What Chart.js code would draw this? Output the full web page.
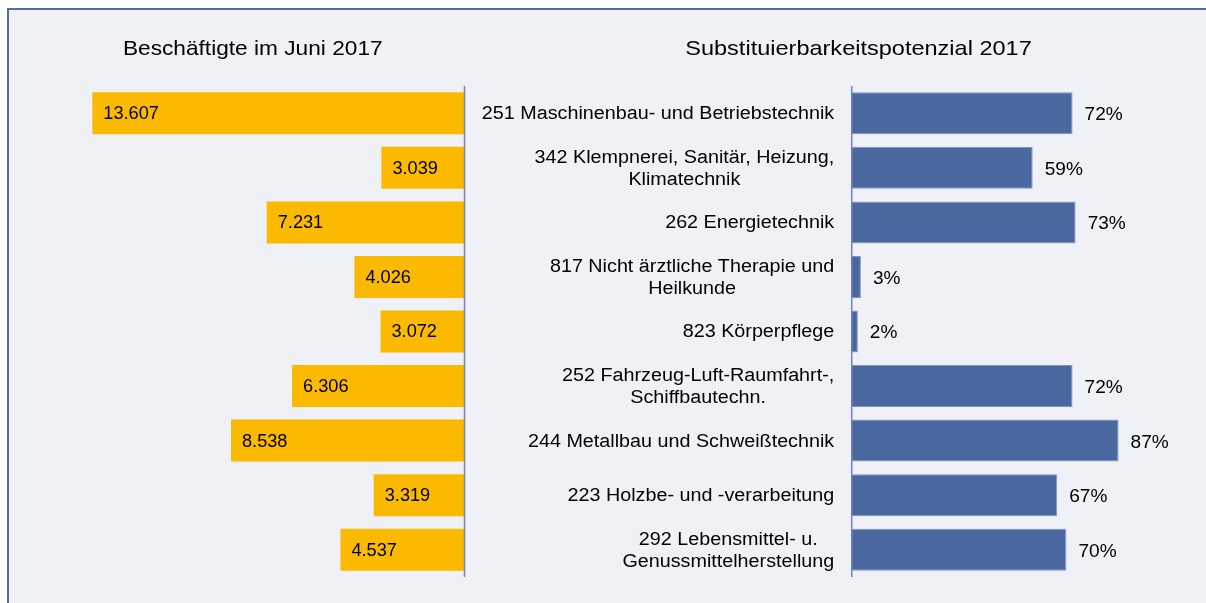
<!DOCTYPE html>
<html>
<head>
<meta charset="utf-8">
<script src="https://cdn.jsdelivr.net/npm/chart.js@4.4.0/dist/chart.umd.min.js"></script>
<style>
	body { margin: 0; background: #fff; }
	#frame { position: absolute; left: 7px; top: 8px; width: 1199px; height: 595px; box-sizing: border-box;
		border-top: 2px solid #4f6ea9; border-left: 2px solid #4f6ea9; background: #eff1f7; }
	#wrap { position: absolute; left: 0; top: 0; width: 1206px; height: 603px; }
</style>
</head>
<body>
<div id="frame"></div>
<div id="wrap"><canvas id="chart"></canvas></div>
<script>
// categories, top to bottom (multi-line labels as arrays)
var categories = [
	['251 Maschinenbau- und Betriebstechnik'],
	['342 Klempnerei, Sanitär, Heizung,', 'Klimatechnik'],
	['262 Energietechnik'],
	['817 Nicht ärztliche Therapie und', 'Heilkunde'],
	['823 Körperpflege'],
	['252 Fahrzeug-Luft-Raumfahrt-,', 'Schiffbautechn.'],
	['244 Metallbau und Schweißtechnik'],
	['223 Holzbe- und -verarbeitung'],
	['292 Lebensmittel- u.', 'Genussmittelherstellung']
];
var employees = [13607, 3039, 7231, 4026, 3072, 6306, 8538, 3319, 4537];
var substitution = [72, 59, 73, 3, 2, 72, 87, 67, 70];
var titles = ['Beschäftigte im Juni 2017', 'Substituierbarkeitspotenzial 2017'];

var FONT = '"Liberation Sans", Arial, sans-serif';

function fmt(n) {
	return String(n).replace(/\B(?=(\d{3})+(?!\d))/g, '.');
}

// text slightly widened, the original was rendered with wider (hinted) glyphs
function drawText(ctx, text, x, y, align, sx) {
	ctx.save();
	ctx.translate(x, y);
	ctx.scale(sx, 1);
	ctx.textAlign = align;
	ctx.fillText(text, 0, 0);
	ctx.restore();
}

// draws axis lines, value labels, category labels and the two titles
var labelsPlugin = {
	id: 'labels',
	afterDatasetsDraw: function(chart) {
		var ctx = chart.ctx;
		var area = chart.chartArea;
		var zeroL = chart.scales.xLeft.getPixelForValue(0);
		var zeroR = chart.scales.xRight.getPixelForValue(0);

		ctx.save();

		// axis lines
		ctx.strokeStyle = '#7185b5';
		ctx.lineWidth = 1.5;
		[zeroL, zeroR].forEach(function(x) {
			ctx.beginPath();
			ctx.moveTo(x, area.top);
			ctx.lineTo(x, area.bottom);
			ctx.stroke();
		});

		ctx.fillStyle = '#000';
		ctx.font = '18px ' + FONT;
		ctx.textBaseline = 'middle';

		chart.getDatasetMeta(0).data.forEach(function(bar, i) {
			drawText(ctx, fmt(employees[i]), bar.x + 11, bar.y + 1, 'left', 1.01);
		});
		chart.getDatasetMeta(1).data.forEach(function(bar, i) {
			drawText(ctx, substitution[i] + '%', bar.x + 12, bar.y + 2, 'left', 1.06);
		});

		// category labels: block right aligned, lines centred within the block
		var sx = 1.097;
		var right = zeroR - 17.5;
		var lineH = 21.7;
		categories.forEach(function(lines, i) {
			var yc = chart.scales.y.getPixelForValue(i) + 1;
			var w = 0;
			lines.forEach(function(l) { w = Math.max(w, ctx.measureText(l).width * sx); });
			var cx = right - w / 2;
			var y0 = yc - (lines.length - 1) * lineH / 2;
			lines.forEach(function(l, j) {
				drawText(ctx, l, cx, y0 + j * lineH, 'center', sx);
			});
		});

		// titles
		ctx.font = '21px ' + FONT;
		drawText(ctx, titles[0], (area.left + zeroL) / 2, 49, 'center', 1.08);
		drawText(ctx, titles[1], 858.5, 49, 'center', 1.12);

		ctx.restore();
	}
};

var ctx = document.getElementById('chart').getContext('2d');

var myChart = new Chart(ctx, {
	type: 'bar',
	data: {
		labels: categories,
		datasets: [{
			data: employees,
			xAxisID: 'xLeft',
			backgroundColor: '#fbb900',
			grouped: false,
			barPercentage: 0.77,
			categoryPercentage: 1
		}, {
			data: substitution,
			xAxisID: 'xRight',
			backgroundColor: '#4a67a0',
			borderColor: '#8096c2',
			borderWidth: 1,
			borderSkipped: 'left',
			grouped: false,
			barPercentage: 0.77,
			categoryPercentage: 1
		}]
	},
	options: {
		indexAxis: 'y',
		responsive: true,
		maintainAspectRatio: false,
		animation: false,
		layout: {
			padding: { left: 41, right: 0, top: 86, bottom: 26 }
		},
		scales: {
			xLeft: { type: 'linear', reverse: true, min: -27111, max: 15484, display: false },
			xRight: { type: 'linear', min: -264.3, max: 115.5, display: false },
			y: { display: false }
		},
		plugins: {
			legend: { display: false },
			tooltip: { enabled: false }
		}
	},
	plugins: [labelsPlugin]
});
</script>
</body>
</html>
